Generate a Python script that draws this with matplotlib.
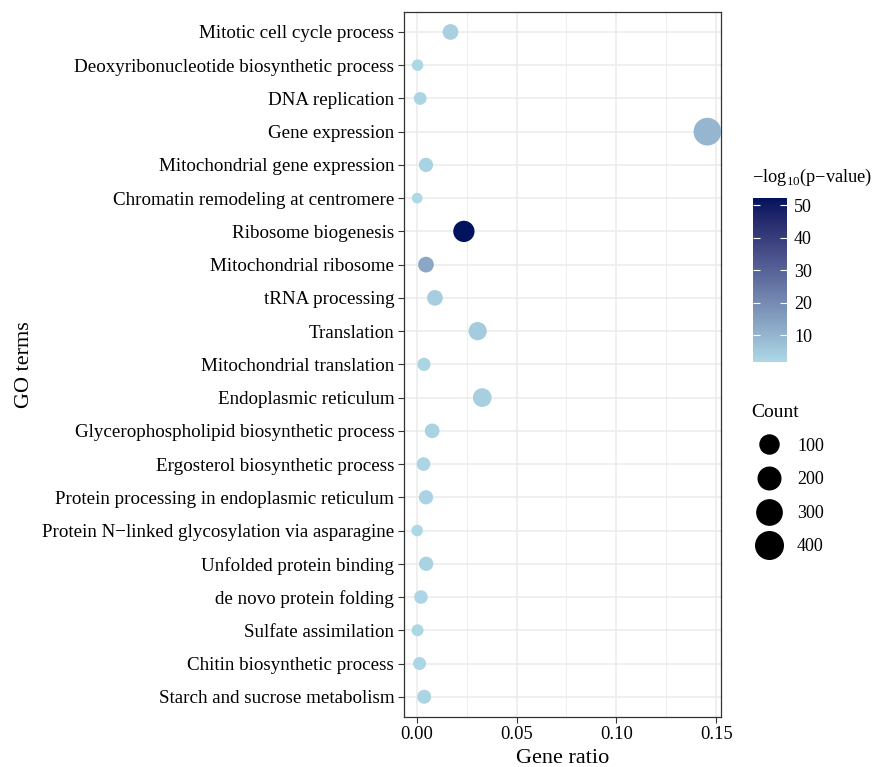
import numpy as np
import matplotlib
matplotlib.use("Agg")
import matplotlib.pyplot as plt
from matplotlib.colors import ListedColormap, Normalize, to_rgb
from matplotlib.lines import Line2D

terms = [
    "Mitotic cell cycle process",
    "Deoxyribonucleotide biosynthetic process",
    "DNA replication",
    "Gene expression",
    "Mitochondrial gene expression",
    "Chromatin remodeling at centromere",
    "Ribosome biogenesis",
    "Mitochondrial ribosome",
    "tRNA processing",
    "Translation",
    "Mitochondrial translation",
    "Endoplasmic reticulum",
    "Glycerophospholipid biosynthetic process",
    "Ergosterol biosynthetic process",
    "Protein processing in endoplasmic reticulum",
    "Protein N\u2212linked glycosylation via asparagine",
    "Unfolded protein binding",
    "de novo protein folding",
    "Sulfate assimilation",
    "Chitin biosynthetic process",
    "Starch and sucrose metabolism",
]
gene_ratio = [0.0169, 0.0004, 0.0017, 0.1456, 0.0046, 0.0002, 0.0236, 0.0046,
              0.0091, 0.0305, 0.0036, 0.0328, 0.0077, 0.0034, 0.0046, 0.0002,
              0.0047, 0.0021, 0.0004, 0.0014, 0.0037]
count = [38, 4, 9, 405, 21, 3, 159, 38, 38, 83, 12, 92, 25, 15, 21, 4, 21, 15, 5, 10, 18]
neg_log_p = [3.5, 2.0, 2.3, 9.5, 3.0, 1.8, 52.2, 13.0, 4.0, 4.5, 2.6, 3.8, 2.9,
             2.4, 2.8, 1.7, 3.1, 2.2, 1.9, 2.1, 2.5]
size_breaks = [100, 200, 300, 400]
x_ticks = [0.00, 0.05, 0.10, 0.15]


# ggplot-like gradient: interpolate in Lab space
def _to_lab(c):
    rgb = np.array(to_rgb(c))
    lin = np.where(rgb > 0.04045, ((rgb + 0.055) / 1.055) ** 2.4, rgb / 12.92)
    M = np.array([[0.4124, 0.3576, 0.1805], [0.2126, 0.7152, 0.0722], [0.0193, 0.1192, 0.9505]])
    xyz = M @ lin / np.array([0.95047, 1.0, 1.08883])
    f = np.where(xyz > 0.008856, np.cbrt(xyz), 7.787 * xyz + 16 / 116)
    return np.array([116 * f[1] - 16, 500 * (f[0] - f[1]), 200 * (f[1] - f[2])])


def _from_lab(lab):
    fy = (lab[0] + 16) / 116
    f = np.array([fy + lab[1] / 500, fy, fy - lab[2] / 200])
    xyz = np.where(f ** 3 > 0.008856, f ** 3, (f - 16 / 116) / 7.787) * np.array([0.95047, 1.0, 1.08883])
    Mi = np.array([[3.2406, -1.5372, -0.4986], [-0.9689, 1.8758, 0.0415], [0.0557, -0.2040, 1.0570]])
    lin = np.clip(Mi @ xyz, 0, 1)
    return np.where(lin > 0.0031308, 1.055 * lin ** (1 / 2.4) - 0.055, 12.92 * lin)


lo, hi = _to_lab("#ADD8E6"), _to_lab("#00135C")
cmap = ListedColormap([_from_lab(lo + (hi - lo) * t) for t in np.linspace(0, 1, 256)])
norm = Normalize(vmin=min(neg_log_p), vmax=max(neg_log_p))

# point diameter (px) like scale_size: area rescaled between min and max count
px2pt = 72 / 100
cmin, cmax = min(count), max(count)


def diam(c):
    return 10.7 + 17.0 * np.sqrt((np.asarray(c, float) - cmin) / (cmax - cmin))


plt.rcParams["font.family"] = ["Liberation Serif", "DejaVu Serif"]
plt.rcParams["mathtext.fontset"] = "custom"
plt.rcParams["mathtext.rm"] = "Liberation Serif"

fig = plt.figure(figsize=(8.77, 7.67), dpi=100)
ax = fig.add_axes([404 / 877, 1 - 716.7 / 767, 317 / 877, 704.7 / 767])

ypos = np.arange(len(terms))
sizes = (diam(count) * px2pt) ** 2
ax.scatter(gene_ratio, ypos, s=sizes, c=neg_log_p, cmap=cmap, norm=norm,
           linewidths=0, zorder=3)

ax.set_ylim(len(terms) - 0.4, -0.6)
ax.set_xlim(-0.0064, 0.1524)
ax.set_yticks(ypos)
ax.set_yticklabels(terms, fontsize=13.7)
ax.set_xticks(x_ticks)
ax.set_xticklabels([f"{v:.2f}" for v in x_ticks], fontsize=13.3)
ax.set_xticks([0.025, 0.075, 0.125], minor=True)
ax.grid(True, which="major", color="#EBEBEB", linewidth=1.1, zorder=0)
ax.grid(True, which="minor", axis="x", color="#EBEBEB", linewidth=0.6, zorder=0)
ax.set_axisbelow(True)
ax.tick_params(axis="both", which="major", length=4, width=0.8, color="#333333",
               labelcolor="black", pad=3)
ax.tick_params(axis="x", which="minor", length=0)
for sp in ax.spines.values():
    sp.set_color("#333333")
    sp.set_linewidth(0.9)
ax.set_xlabel("Gene ratio", fontsize=16, labelpad=4)
ax.set_ylabel("GO terms", fontsize=16, labelpad=6)

# colour bar
cax = fig.add_axes([753 / 877, 1 - 362 / 767, 34 / 877, 164 / 767])
sm = plt.cm.ScalarMappable(norm=norm, cmap=cmap)
cb = fig.colorbar(sm, cax=cax, ticks=[10, 20, 30, 40, 50])
cb.outline.set_visible(False)
cb.ax.tick_params(length=5, width=0.8, color="white", labelsize=13, pad=5, direction="in")
cb.ax.yaxis.set_tick_params(which="both", right=True, left=True)
fig.text(752 / 877, 1 - 177 / 767, "\u2212log$_{10}$(p\u2212value)", fontsize=13.2, va="center", ha="left")

# size legend
handles = [Line2D([], [], linestyle="none", marker="o", color="black",
                  markersize=float(diam(b)) * px2pt) for b in size_breaks]
leg = fig.legend(handles, [str(b) for b in size_breaks], title="Count",
                 loc="upper left", bbox_to_anchor=(751 / 877, 1 - 404 / 767),
                 frameon=False, fontsize=13, title_fontsize=14,
                 labelspacing=0.92, handlelength=2.0, handletextpad=0.55,
                 borderaxespad=0, borderpad=0)
leg._legend_box.align = "left"

fig.savefig("out.png", dpi=100)
